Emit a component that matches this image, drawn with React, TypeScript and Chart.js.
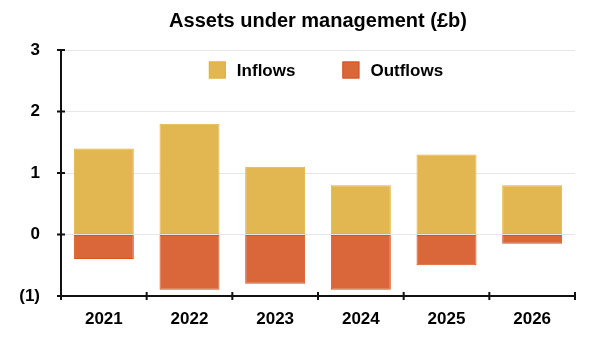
import React, { useEffect, useRef } from "react";
import { Chart, registerables } from "chart.js";

Chart.register(...registerables);

const years = ["2021", "2022", "2023", "2024", "2025", "2026"];
const inflows = [1.4, 1.8, 1.1, 0.8, 1.3, 0.8];
const outflows = [-0.4, -0.9, -0.8, -0.9, -0.5, -0.15];
const yTicks = [-1, 0, 1, 2, 3];

const FONT = "'Liberation Sans', Arial, Helvetica, sans-serif";

const formatTick = (v: number) => (v < 0 ? `(${Math.abs(v)})` : `${v}`);

// Title, an in-plot legend, and the black axis lines with tick marks that cross them
const axesPlugin = {
  id: "axesAndTitle",
  afterDraw(chart: any) {
    const { ctx, chartArea } = chart;
    const { left, right, bottom, top } = chartArea;
    const y = chart.scales.y;
    const x = chart.scales.x;
    ctx.save();

    ctx.fillStyle = "#000";
    ctx.font = `bold 20px ${FONT}`;
    ctx.textAlign = "center";
    ctx.textBaseline = "middle";
    ctx.fillText("Assets under management (£b)", (left + right) / 2, 21);

    // legend
    const box = 17;
    const gap = 11;
    const itemGap = 47;
    ctx.font = `bold 17px ${FONT}`;
    const items = chart.data.datasets.map((d: any) => ({
      label: d.label,
      fill: d.backgroundColor,
      stroke: d.borderColor,
      w: ctx.measureText(d.label).width,
    }));
    const total =
      items.reduce((s: number, it: any) => s + box + gap + it.w, 0) + itemGap * (items.length - 1);
    let lx = (left + right) / 2 + 8 - total / 2;
    const ly = top + 20;
    ctx.textAlign = "left";
    items.forEach((it: any) => {
      ctx.fillStyle = it.fill;
      ctx.fillRect(lx, ly - box / 2, box, box);
      ctx.strokeStyle = it.stroke;
      ctx.lineWidth = 1;
      ctx.strokeRect(lx + 0.5, ly - box / 2 + 0.5, box - 1, box - 1);
      ctx.fillStyle = "#000";
      ctx.fillText(it.label, lx + box + gap, ly + 1);
      lx += box + gap + it.w + itemGap;
    });

    ctx.strokeStyle = "#111";
    ctx.lineWidth = 2;
    ctx.beginPath();
    ctx.moveTo(left, y.getPixelForValue(yTicks[yTicks.length - 1]) - 1);
    ctx.lineTo(left, bottom);
    ctx.lineTo(right, bottom);
    ctx.stroke();

    ctx.beginPath();
    yTicks.forEach((t) => {
      const py = y.getPixelForValue(t);
      ctx.moveTo(left - 4, py);
      ctx.lineTo(left + 4, py);
    });
    const step = x.getPixelForValue(1) - x.getPixelForValue(0);
    for (let i = 0; i <= years.length; i++) {
      const px = i < years.length ? x.getPixelForValue(i) - step / 2 : right;
      ctx.moveTo(px, bottom - 4);
      ctx.lineTo(px, bottom + 4);
    }
    ctx.stroke();
    ctx.restore();
  },
};

export default function App() {
  const canvasRef = useRef<HTMLCanvasElement | null>(null);

  useEffect(() => {
    if (!canvasRef.current) return;
    const chart = new Chart(canvasRef.current, {
      type: "bar",
      data: {
        labels: years,
        datasets: [
          {
            label: "Inflows",
            data: inflows,
            backgroundColor: "#E2B650",
            borderColor: "#E6B23A",
            borderWidth: 1,
          },
          {
            label: "Outflows",
            data: outflows,
            backgroundColor: "#DA673A",
            borderColor: "#D9531F",
            borderWidth: 1,
          },
        ],
      },
      options: {
        animation: false,
        responsive: true,
        maintainAspectRatio: false,
        layout: { padding: { top: 50, right: 25, left: 0, bottom: 0 } },
        datasets: {
          bar: { categoryPercentage: 1, barPercentage: 0.7, borderSkipped: false },
        },
        plugins: {
          title: { display: false },
          tooltip: { enabled: false },
          legend: { display: false },
        },
        scales: {
          x: {
            stacked: true,
            grid: { display: false, drawTicks: false },
            border: { display: false },
            ticks: {
              color: "#000",
              padding: 13,
              font: { family: FONT, size: 17, weight: "bold" },
            },
            afterFit: (s: any) => {
              s.height = 47;
            },
          },
          y: {
            stacked: true,
            min: -1,
            max: 3,
            grid: { color: "#E6E6E6", lineWidth: 1, drawTicks: false },
            border: { display: false },
            ticks: {
              stepSize: 1,
              color: "#000",
              padding: 21,
              font: { family: FONT, size: 17, weight: "bold" },
              callback: (v: any) => formatTick(Number(v)),
            },
            afterFit: (s: any) => {
              s.width = 61;
            },
          },
        },
      },
      plugins: [axesPlugin],
    });
    return () => chart.destroy();
  }, []);

  return (
    <div style={{ position: "fixed", left: 0, top: 0, width: 600, height: 343, background: "#fff" }}>
      <canvas ref={canvasRef} />
    </div>
  );
}
